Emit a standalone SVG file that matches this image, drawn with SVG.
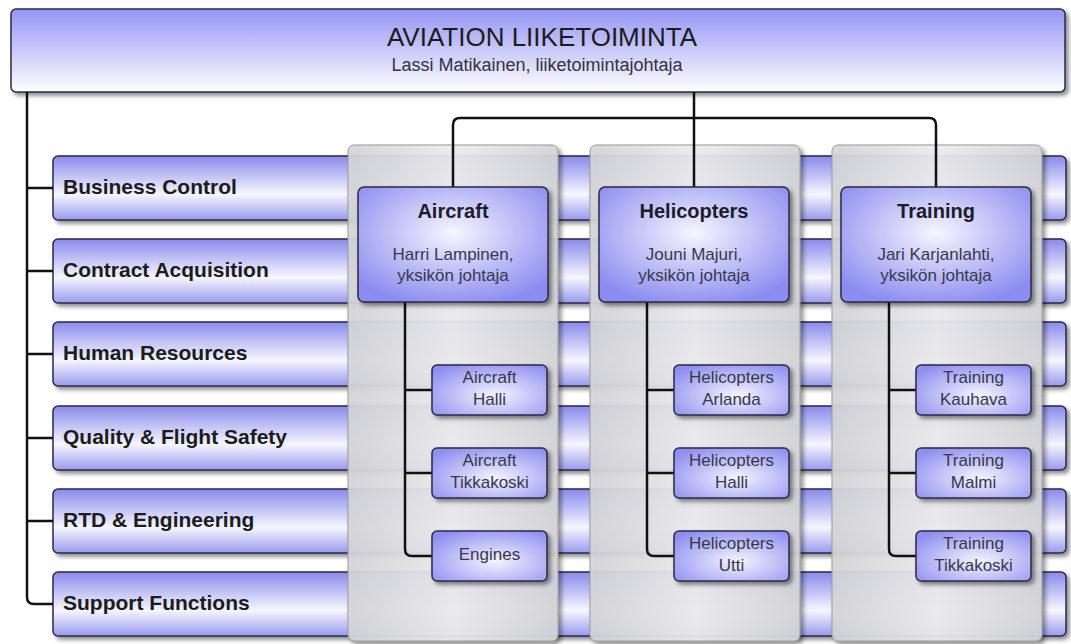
<svg xmlns="http://www.w3.org/2000/svg" width="1071" height="644" viewBox="0 0 1071 644">
<defs>
<linearGradient id="gTitle" x1="0" y1="0" x2="0" y2="1">
<stop offset="0" stop-color="#9494f4"/>
<stop offset="1" stop-color="#ffffff"/>
</linearGradient>
<linearGradient id="gBand" x1="0" y1="0" x2="0" y2="1">
<stop offset="0" stop-color="#8a8aec"/>
<stop offset="0.6" stop-color="#f6f6ff"/>
<stop offset="1" stop-color="#9a9aee"/>
</linearGradient>
<linearGradient id="gCol" x1="0" y1="0" x2="1" y2="0">
<stop offset="0" stop-color="#d6d6da"/>
<stop offset="0.5" stop-color="#eeeef0"/>
<stop offset="1" stop-color="#d6d6da"/>
</linearGradient>
<radialGradient id="gBox" cx="0.5" cy="0.4" r="0.65">
<stop offset="0" stop-color="#f6f6ff"/>
<stop offset="1" stop-color="#8c8cf0"/>
</radialGradient>
<radialGradient id="gChild" cx="0.55" cy="0.6" r="0.7">
<stop offset="0" stop-color="#f4f4ff"/>
<stop offset="1" stop-color="#8e8ef0"/>
</radialGradient>
<filter id="sh" x="-10%" y="-20%" width="130%" height="150%">
<feDropShadow dx="3" dy="3" stdDeviation="2" flood-color="#000" flood-opacity="0.45"/>
</filter>
</defs>
<style>
.box{stroke:#2a2a48;stroke-width:1.5;filter:url(#sh)}
.band{fill:url(#gBand)}
.col{fill:url(#gCol);fill-opacity:0.9;stroke:#9a9a9a;stroke-width:1;filter:url(#sh)}
.unit{fill:url(#gBox)}
.child{fill:url(#gChild)}
.lbl{font-family:"Liberation Sans",Arial,sans-serif;font-weight:bold;font-size:21px;fill:#1c1c1c}
.ttl{font-family:"Liberation Sans",Arial,sans-serif;font-weight:bold;font-size:20px;fill:#1c1c2a;text-anchor:middle}
.sub{font-family:"Liberation Sans",Arial,sans-serif;font-size:17px;fill:#38384c;text-anchor:middle}
.conn{fill:none;stroke:#111;stroke-width:2.5}
</style>
<rect width="1071" height="644" fill="#ffffff"/>

<g id="title">
<rect class="box" x="11" y="9" width="1054" height="83" rx="5" fill="url(#gTitle)"/>
<text x="542" y="46" font-family="'Liberation Sans',Arial,sans-serif" font-size="26" fill="#1c1c1c" text-anchor="middle">AVIATION LIIKETOIMINTA</text>
<text x="537" y="71" font-family="'Liberation Sans',Arial,sans-serif" font-size="18" fill="#333340" text-anchor="middle">Lassi Matikainen, liiketoimintajohtaja</text>
</g>

<g id="band-business-control">
<rect class="box band" x="53" y="156" width="1013" height="64" rx="5"/>
<text class="lbl" x="63" y="194">Business Control</text>
</g>
<g id="band-contract-acquisition">
<rect class="box band" x="53" y="239" width="1013" height="64" rx="5"/>
<text class="lbl" x="63" y="277">Contract Acquisition</text>
</g>
<g id="band-human-resources">
<rect class="box band" x="53" y="322" width="1013" height="64" rx="5"/>
<text class="lbl" x="63" y="360">Human Resources</text>
</g>
<g id="band-quality">
<rect class="box band" x="53" y="406" width="1013" height="64" rx="5"/>
<text class="lbl" x="63" y="444">Quality &amp; Flight Safety</text>
</g>
<g id="band-rtd">
<rect class="box band" x="53" y="489" width="1013" height="64" rx="5"/>
<text class="lbl" x="63" y="527">RTD &amp; Engineering</text>
</g>
<g id="band-support">
<rect class="box band" x="53" y="572" width="1013" height="64" rx="5"/>
<text class="lbl" x="63" y="610">Support Functions</text>
</g>

<g id="columns">
<rect class="col" x="348" y="145" width="210" height="496" rx="6"/>
<rect class="col" x="590" y="145" width="210" height="496" rx="6"/>
<rect class="col" x="832" y="145" width="210" height="496" rx="6"/>
</g>

<g id="connectors">
<path class="conn" d="M27 92 V597 Q27 604 34 604 H53"/>
<path class="conn" d="M27 188 H53 M27 271 H53 M27 354 H53 M27 438 H53 M27 521 H53"/>
<path class="conn" d="M694 92 V118"/>
<path class="conn" d="M453 187 V125 Q453 118 460 118 H929 Q936 118 936 125 V187"/>
<path class="conn" d="M694 118 V187"/>
<path class="conn" d="M405 302 V549 Q405 556 412 556 H432 M405 390 H432 M405 473 H432"/>
<path class="conn" d="M647 302 V549 Q647 556 654 556 H674 M647 390 H674 M647 473 H674"/>
<path class="conn" d="M889 302 V549 Q889 556 896 556 H916 M889 390 H916 M889 473 H916"/>
</g>

<g id="unit-aircraft">
<rect class="box unit" x="358" y="187" width="190" height="115" rx="6"/>
<text class="ttl" x="453" y="218">Aircraft</text>
<text class="sub" x="453" y="260">Harri Lampinen,</text>
<text class="sub" x="453" y="281">yksikön johtaja</text>
</g>
<g id="unit-helicopters">
<rect class="box unit" x="599" y="187" width="190" height="115" rx="6"/>
<text class="ttl" x="694" y="218">Helicopters</text>
<text class="sub" x="694" y="260">Jouni Majuri,</text>
<text class="sub" x="694" y="281">yksikön johtaja</text>
</g>
<g id="unit-training">
<rect class="box unit" x="841" y="187" width="190" height="115" rx="6"/>
<text class="ttl" x="936" y="218">Training</text>
<text class="sub" x="936" y="260">Jari Karjanlahti,</text>
<text class="sub" x="936" y="281">yksikön johtaja</text>
</g>

<g id="aircraft-halli">
<rect class="box child" x="432" y="365" width="115" height="50" rx="5"/>
<text class="sub" x="489.5" y="383">Aircraft</text>
<text class="sub" x="489.5" y="405">Halli</text>
</g>
<g id="aircraft-tikkakoski">
<rect class="box child" x="432" y="448" width="115" height="50" rx="5"/>
<text class="sub" x="489.5" y="466">Aircraft</text>
<text class="sub" x="489.5" y="488">Tikkakoski</text>
</g>
<g id="engines">
<rect class="box child" x="432" y="531" width="115" height="50" rx="5"/>
<text class="sub" x="489.5" y="560">Engines</text>
</g>

<g id="helicopters-arlanda">
<rect class="box child" x="674" y="365" width="115" height="50" rx="5"/>
<text class="sub" x="731.5" y="383">Helicopters</text>
<text class="sub" x="731.5" y="405">Arlanda</text>
</g>
<g id="helicopters-halli">
<rect class="box child" x="674" y="448" width="115" height="50" rx="5"/>
<text class="sub" x="731.5" y="466">Helicopters</text>
<text class="sub" x="731.5" y="488">Halli</text>
</g>
<g id="helicopters-utti">
<rect class="box child" x="674" y="531" width="115" height="50" rx="5"/>
<text class="sub" x="731.5" y="549">Helicopters</text>
<text class="sub" x="731.5" y="571">Utti</text>
</g>

<g id="training-kauhava">
<rect class="box child" x="916" y="365" width="115" height="50" rx="5"/>
<text class="sub" x="973.5" y="383">Training</text>
<text class="sub" x="973.5" y="405">Kauhava</text>
</g>
<g id="training-malmi">
<rect class="box child" x="916" y="448" width="115" height="50" rx="5"/>
<text class="sub" x="973.5" y="466">Training</text>
<text class="sub" x="973.5" y="488">Malmi</text>
</g>
<g id="training-tikkakoski">
<rect class="box child" x="916" y="531" width="115" height="50" rx="5"/>
<text class="sub" x="973.5" y="549">Training</text>
<text class="sub" x="973.5" y="571">Tikkakoski</text>
</g>
</svg>
